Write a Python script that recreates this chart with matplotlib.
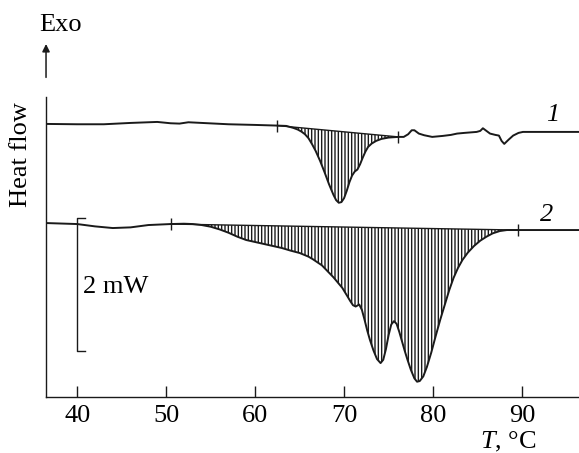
import numpy as np
import matplotlib
matplotlib.use("Agg")
from matplotlib import pyplot as plt
from matplotlib.patches import FancyArrowPatch

plt.rcParams['font.family'] = ['Liberation Serif', 'DejaVu Serif']
plt.rcParams['mathtext.fontset'] = 'custom'
plt.rcParams['mathtext.rm'] = 'Liberation Serif'
plt.rcParams['mathtext.it'] = 'Liberation Serif:italic'
plt.rcParams['hatch.linewidth'] = 1.0

# curve 1: temperature (C) and heat flow (mW, shifted)
t1 = [36.5, 40, 43, 46, 49, 50.5, 51.5, 52.5, 54, 57, 60, 62.5, 63.5, 64.3,
      64.8, 65.2, 65.6, 66.0, 66.4, 66.8, 67.3, 67.8, 68.3, 68.8, 69.1, 69.4,
      69.7, 70.0, 70.3, 70.6, 70.9, 71.2, 71.5, 71.8, 72.1, 72.4, 72.7, 73.1,
      73.6, 74.2, 75.0, 76.1, 76.7, 77.2, 77.6, 77.9, 78.4, 79.0, 79.9, 81.1,
      82.0, 82.7, 83.5, 84.9, 85.3, 85.6, 86.0, 86.4, 87.0, 87.4, 87.7, 88.0,
      88.5, 89.0, 89.6, 90.1, 96.5]
q1 = [4.105, 4.10, 4.10, 4.12, 4.135, 4.115, 4.11, 4.13, 4.12, 4.10, 4.09,
      4.08, 4.075, 4.045, 4.02, 3.99, 3.95, 3.89, 3.80, 3.70, 3.55, 3.38, 3.20,
      3.04, 2.96, 2.92, 2.93, 2.99, 3.10, 3.23, 3.33, 3.39, 3.42, 3.50, 3.60,
      3.69, 3.76, 3.81, 3.85, 3.88, 3.90, 3.91, 3.91, 3.95, 4.01, 4.01, 3.96,
      3.935, 3.91, 3.925, 3.94, 3.96, 3.97, 3.985, 4.0, 4.04, 4.0, 3.96, 3.94,
      3.93, 3.85, 3.805, 3.87, 3.93, 3.97, 3.985, 3.985]
peak1 = (62.5, 76.1)

# curve 2
t2 = [36.5, 40, 42, 44, 46, 48, 50.5, 52, 53, 54, 55, 56, 57, 58, 59, 60, 61,
      62, 63, 64, 65, 66, 66.5, 67.5, 68.8, 69.8, 70.3, 70.7, 71.0, 71.3, 71.7,
      72.0, 72.3, 72.6, 72.9, 73.3, 73.7, 74.1, 74.4, 74.7, 75.0, 75.3, 75.6,
      75.9, 76.2, 76.5, 76.8, 77.1, 77.5, 77.9, 78.2, 78.5, 78.9, 79.3, 79.8,
      80.3, 80.8, 81.3, 81.8, 82.3, 82.8, 83.3, 83.9, 84.6, 85.3, 86.0, 86.7,
      87.5, 88.3, 89.5, 96.5]
q2 = [2.615, 2.60, 2.565, 2.54, 2.55, 2.585, 2.60, 2.605, 2.60, 2.585, 2.56,
      2.52, 2.47, 2.41, 2.36, 2.33, 2.30, 2.27, 2.24, 2.20, 2.165, 2.11, 2.07,
      1.98, 1.80, 1.64, 1.53, 1.44, 1.38, 1.36, 1.39, 1.31, 1.16, 1.00, 0.86,
      0.70, 0.57, 0.51, 0.56, 0.72, 0.93, 1.09, 1.14, 1.10, 0.98, 0.84, 0.70,
      0.57, 0.41, 0.28, 0.23, 0.24, 0.31, 0.45, 0.67, 0.92, 1.16, 1.38, 1.60,
      1.79, 1.94, 2.06, 2.17, 2.27, 2.35, 2.41, 2.46, 2.495, 2.51, 2.51, 2.51]
peak2 = (50.5, 89.5)

scale_x = 40
scale_y = (0.69, 2.69)  # 2 mW

ink = '#1a1a1a'
fig = plt.figure(figsize=(5.79, 4.53), dpi=100)
ax = fig.add_axes([0.0795, 0.1236, 0.9205, 0.6623])

for t, q, (a, b), lab, lab_xy in [(t1, q1, peak1, '1', (93.4, 4.24)),
                                  (t2, q2, peak2, '2', (92.8, 2.74))]:
    t = np.array(t)
    q = np.array(q)
    ax.plot(t, q, color=ink, lw=1.4, zorder=3, solid_joinstyle='round')
    m = (t >= a) & (t <= b)
    ax.fill(t[m], q[m], facecolor='none', edgecolor=ink, lw=0,
            hatch='|||||', zorder=2)
    ax.plot(t[m][[0, -1]], q[m][[0, -1]], color=ink, lw=1.0, zorder=3)
    ax.plot(t[m][[0, -1]], q[m][[0, -1]], ls='none', marker='|',
            ms=8, mew=1.0, color=ink, zorder=4)
    ax.text(lab_xy[0], lab_xy[1], lab, fontsize=19, style='italic',
            family='Liberation Serif', ha='center', va='center')

# 2 mW scale bar
ax.plot([scale_x + 0.9, scale_x, scale_x, scale_x + 0.9],
        [scale_y[1], scale_y[1], scale_y[0], scale_y[0]],
        color=ink, lw=1.0)
ax.text(scale_x + 0.7, 1.65, '2 mW', fontsize=19, family='Liberation Serif',
        ha='left', va='center')

ax.set_xlim(36.5, 96.4)
ax.set_ylim(0, 4.51)
ax.set_xticks([40, 50, 60, 70, 80, 90])
ax.set_yticks([])
ax.tick_params(axis='x', direction='in', length=8, width=1.0,
               labelsize=19, pad=6, color=ink)
for lbl in ax.get_xticklabels():
    lbl.set_family('Liberation Serif')
for s in ['top', 'right']:
    ax.spines[s].set_visible(False)
for s in ['left', 'bottom']:
    ax.spines[s].set_linewidth(1.0)
    ax.spines[s].set_color(ink)

fig.text(537 / 579, 0.024, r'$\mathit{T}$, °C', fontsize=19,
         family='Liberation Serif', ha='right', va='center')
fig.text(0.036, 0.658, 'Heat flow', fontsize=19, family='Liberation Serif',
         rotation=90, ha='center', va='center')
fig.text(0.105, 0.945, 'Exo', fontsize=19, family='Liberation Serif',
         ha='center', va='center')
fig.patches.append(FancyArrowPatch(
    (0.0795, 0.823), (0.0795, 0.909), transform=fig.transFigure,
    arrowstyle='-|>', mutation_scale=11, lw=1.1, color=ink))

fig.savefig('out.png', dpi=100)
